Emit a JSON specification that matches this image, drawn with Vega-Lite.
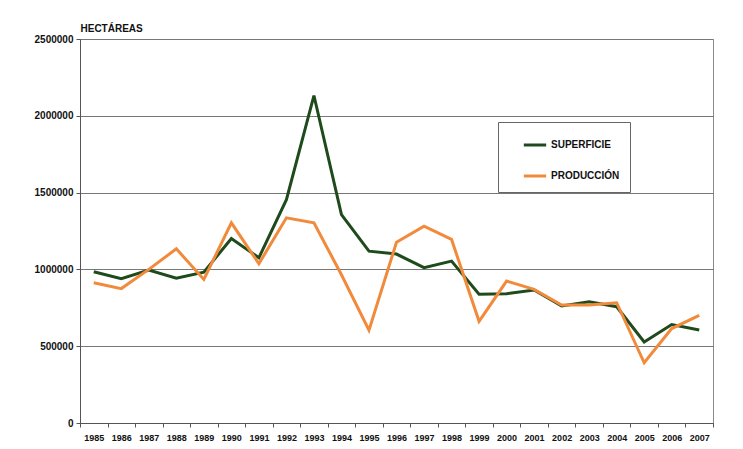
{
  "$schema": "https://vega.github.io/schema/vega-lite/v6.json",
  "width": 633,
  "height": 384,
  "autosize": {"type": "none"},
  "padding": {"left": 80, "top": 39, "right": 30, "bottom": 26},
  "background": "white",
  "config": {
    "font": "Liberation Sans",
    "view": {"stroke": "#8a8a8a", "strokeWidth": 1}
  },
  "data": {
    "values": [
      {"year": "1985", "serie": "SUPERFICIE", "value": 985000},
      {"year": "1986", "serie": "SUPERFICIE", "value": 940000},
      {"year": "1987", "serie": "SUPERFICIE", "value": 995000},
      {"year": "1988", "serie": "SUPERFICIE", "value": 942000},
      {"year": "1989", "serie": "SUPERFICIE", "value": 982000},
      {"year": "1990", "serie": "SUPERFICIE", "value": 1201000},
      {"year": "1991", "serie": "SUPERFICIE", "value": 1076000},
      {"year": "1992", "serie": "SUPERFICIE", "value": 1454000},
      {"year": "1993", "serie": "SUPERFICIE", "value": 2132000},
      {"year": "1994", "serie": "SUPERFICIE", "value": 1357000},
      {"year": "1995", "serie": "SUPERFICIE", "value": 1119000},
      {"year": "1996", "serie": "SUPERFICIE", "value": 1100000},
      {"year": "1997", "serie": "SUPERFICIE", "value": 1011000},
      {"year": "1998", "serie": "SUPERFICIE", "value": 1054000},
      {"year": "1999", "serie": "SUPERFICIE", "value": 838000},
      {"year": "2000", "serie": "SUPERFICIE", "value": 842000},
      {"year": "2001", "serie": "SUPERFICIE", "value": 866000},
      {"year": "2002", "serie": "SUPERFICIE", "value": 762000},
      {"year": "2003", "serie": "SUPERFICIE", "value": 790000},
      {"year": "2004", "serie": "SUPERFICIE", "value": 757000},
      {"year": "2005", "serie": "SUPERFICIE", "value": 528000},
      {"year": "2006", "serie": "SUPERFICIE", "value": 641000},
      {"year": "2007", "serie": "SUPERFICIE", "value": 606000},
      {"year": "1985", "serie": "PRODUCCIÓN", "value": 913000},
      {"year": "1986", "serie": "PRODUCCIÓN", "value": 875000},
      {"year": "1987", "serie": "PRODUCCIÓN", "value": 1000000},
      {"year": "1988", "serie": "PRODUCCIÓN", "value": 1134000},
      {"year": "1989", "serie": "PRODUCCIÓN", "value": 935000},
      {"year": "1990", "serie": "PRODUCCIÓN", "value": 1303000},
      {"year": "1991", "serie": "PRODUCCIÓN", "value": 1037000},
      {"year": "1992", "serie": "PRODUCCIÓN", "value": 1336000},
      {"year": "1993", "serie": "PRODUCCIÓN", "value": 1303000},
      {"year": "1994", "serie": "PRODUCCIÓN", "value": 965000},
      {"year": "1995", "serie": "PRODUCCIÓN", "value": 604000},
      {"year": "1996", "serie": "PRODUCCIÓN", "value": 1177000},
      {"year": "1997", "serie": "PRODUCCIÓN", "value": 1281000},
      {"year": "1998", "serie": "PRODUCCIÓN", "value": 1195000},
      {"year": "1999", "serie": "PRODUCCIÓN", "value": 662000},
      {"year": "2000", "serie": "PRODUCCIÓN", "value": 924000},
      {"year": "2001", "serie": "PRODUCCIÓN", "value": 870000},
      {"year": "2002", "serie": "PRODUCCIÓN", "value": 768000},
      {"year": "2003", "serie": "PRODUCCIÓN", "value": 768000},
      {"year": "2004", "serie": "PRODUCCIÓN", "value": 783000},
      {"year": "2005", "serie": "PRODUCCIÓN", "value": 392000},
      {"year": "2006", "serie": "PRODUCCIÓN", "value": 615000},
      {"year": "2007", "serie": "PRODUCCIÓN", "value": 701000}
    ]
  },
  "mark": {"type": "line", "strokeWidth": 3, "strokeJoin": "miter"},
  "encoding": {
    "x": {
      "field": "year",
      "type": "ordinal",
      "scale": {"type": "band", "paddingInner": 0, "paddingOuter": 0},
      "axis": {
        "title": null,
        "labelAngle": 0,
        "labelFont": "Liberation Sans",
        "labelFontWeight": "bold",
        "labelFontSize": 9,
        "labelColor": "#111",
        "labelPadding": 6,
        "tickBand": "extent",
        "tickSize": 4,
        "tickColor": "#555",
        "domainColor": "#555",
        "grid": false
      }
    },
    "y": {
      "field": "value",
      "type": "quantitative",
      "scale": {"domain": [0, 2500000]},
      "axis": {
        "values": [0, 500000, 1000000, 1500000, 2000000, 2500000],
        "format": "d",
        "title": "HECTÁREAS",
        "titleAngle": 0,
        "titleAlign": "left",
        "titleBaseline": "bottom",
        "titleX": 0,
        "titleY": -6,
        "titleFontSize": 10,
        "titleFontWeight": "bold",
        "titleColor": "#111",
        "labelFontWeight": "bold",
        "labelFontSize": 10,
        "labelColor": "#111",
        "labelPadding": 3,
        "tickSize": 4,
        "tickColor": "#555",
        "domainColor": "#555",
        "grid": true,
        "gridColor": "#777",
        "gridWidth": 1
      }
    },
    "color": {
      "field": "serie",
      "type": "nominal",
      "scale": {"domain": ["SUPERFICIE", "PRODUCCIÓN"], "range": ["#1e4a1c", "#f28a3c"]},
      "legend": {
        "title": null,
        "orient": "none",
        "legendX": 418,
        "legendY": 83,
        "direction": "vertical",
        "strokeColor": "#666",
        "fillColor": "white",
        "padding": 10,
        "rowPadding": 12,
        "symbolOffset": 14,
        "symbolType": "stroke",
        "symbolSize": 500,
        "symbolStrokeWidth": 3,
        "labelFontWeight": "bold",
        "labelFontSize": 10,
        "labelColor": "#111",
        "labelOffset": 3
      }
    }
  }
}
